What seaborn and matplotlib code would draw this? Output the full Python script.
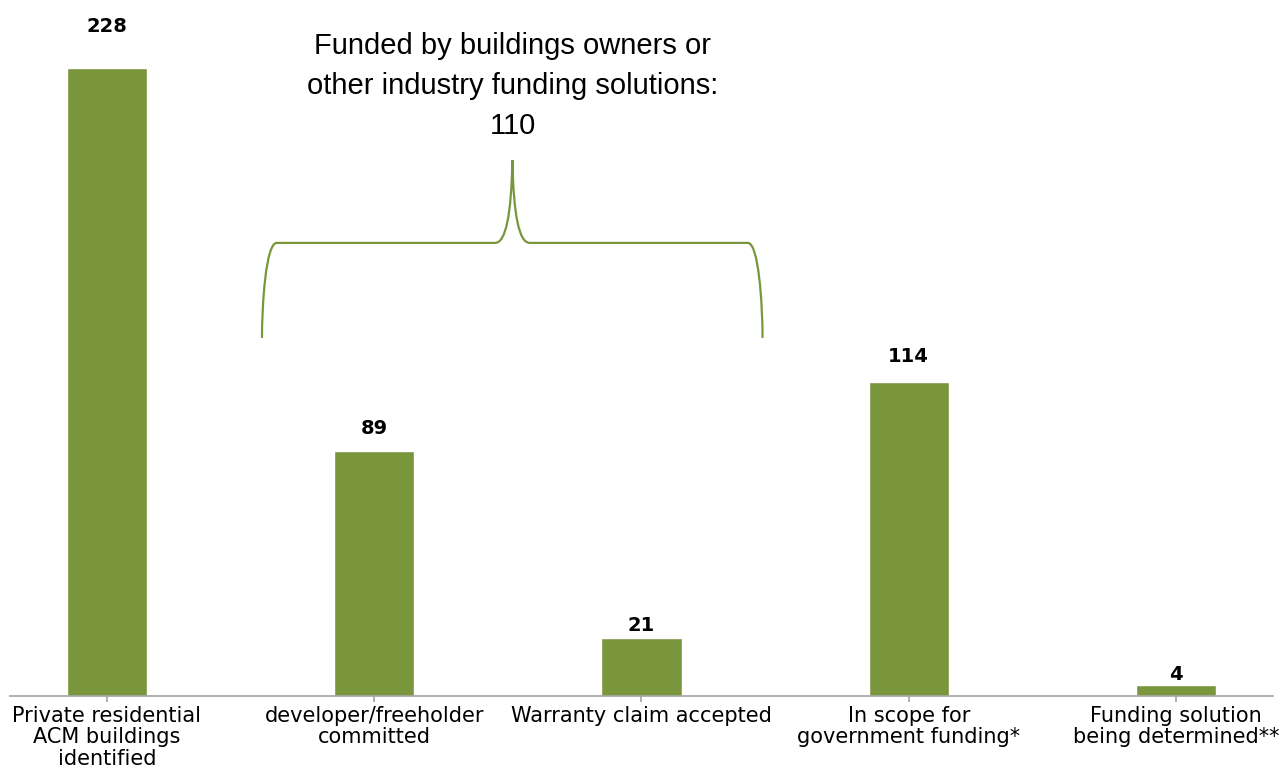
import matplotlib
matplotlib.use("Agg")
import matplotlib.pyplot as plt
from matplotlib.path import Path
from matplotlib.patches import PathPatch
import seaborn as sns
import pandas as pd

categories = ["Private residential\nACM buildings\nidentified",
              "developer/freeholder\ncommitted",
              "Warranty claim accepted",
              "In scope for\ngovernment funding*",
              "Funding solution\nbeing determined**"]
values = [228, 89, 21, 114, 4]
brace_label = "Funded by buildings owners or\nother industry funding solutions:\n110"

GREEN = "#7A963C"

sns.set_theme(style="white")
plt.rcParams["font.family"] = ["DejaVu Sans"]

df = pd.DataFrame({"category": categories, "value": values})

fig = plt.figure(figsize=(12.79, 7.69), dpi=100)
ax = fig.add_axes([0.0078, 0.095, 0.9875, 0.905])
sns.barplot(data=df, x="category", y="value", color=GREEN, width=0.3,
            saturation=1, ax=ax)

ax.set_xlim(-0.363, 4.363)
ax.set_ylim(0, 252.7)
ax.set_xlabel("")
ax.set_ylabel("")
ax.set_yticks([])
for s in ["top", "right", "left"]:
    ax.spines[s].set_visible(False)
ax.spines["bottom"].set_color("#A6A6A6")
ax.tick_params(axis="x", length=4, color="#A6A6A6", labelsize=15, pad=3,
               labelcolor="black", direction="out", bottom=True)
for lbl in ax.get_xticklabels():
    lbl.set_linespacing(1.1)

# value labels above bars (gap grows a bit with bar height, as in the source)
for i, v in enumerate(values):
    ax.text(i, v * 1.05 + 3.6, str(v), ha="center", va="center", fontsize=14,
            fontweight="bold", color="black")

# curly brace over bars 1-2
x0, x1, xm = 0.58, 2.453, 1.517
yb, yh, yt = 130, 164.5, 194.6
dx = 0.055
verts = [
    (x0, yb), (x0, yh - 22), (x0 + 0.015, yh), (x0 + dx, yh),
    (xm - dx - 0.01, yh),
    (xm - 0.025, yh), (xm - 0.004, yh + 10), (xm, yt),
    (xm + 0.004, yh + 10), (xm + 0.025, yh), (xm + dx + 0.01, yh),
    (x1 - dx, yh),
    (x1 - 0.015, yh), (x1, yh - 22), (x1, yb),
]
codes = [Path.MOVETO, Path.CURVE4, Path.CURVE4, Path.CURVE4,
         Path.LINETO,
         Path.CURVE4, Path.CURVE4, Path.CURVE4,
         Path.CURVE4, Path.CURVE4, Path.CURVE4,
         Path.LINETO,
         Path.CURVE4, Path.CURVE4, Path.CURVE4]
ax.add_patch(PathPatch(Path(verts, codes), fill=False, edgecolor=GREEN,
                       linewidth=1.6, clip_on=False))

ax.text(xm, 221.5, brace_label, ha="center", va="center", fontsize=21,
        family="Liberation Sans", linespacing=1.55, color="black")

fig.savefig("out.png", dpi=100)
